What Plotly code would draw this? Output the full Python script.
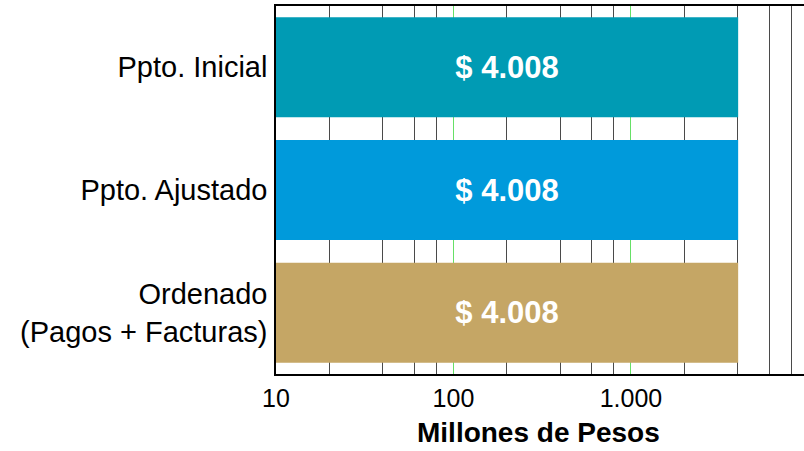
import plotly.graph_objects as go

categories = ["Ppto. Inicial", "Ppto. Ajustado", "Ordenado<br>(Pagos + Facturas)"]
values = [4008, 4008, 4008]
colors = ["#009BB4", "#009ADB", "#C5A665"]
base_value = 10
tick_vals = [10, 100, 1000]
tick_text = ["10", "100", "1.000"]
minor_vals = [20, 40, 60, 80, 200, 400, 600, 800, 2000, 4000, 6000, 8000]
x_title = "Millones de Pesos"

labels = ["$ " + f"{v:,.0f}".replace(",", ".") for v in values]

fig = go.Figure(go.Bar(
    x=values, y=categories, orientation="h", base=base_value,
    marker=dict(color=colors, line=dict(width=0)),
    text=labels, textposition="inside", insidetextanchor="middle",
    textfont=dict(family="Liberation Sans", size=31, color="white", weight="bold"),
    hoverinfo="skip",
))

fig.update_layout(
    width=804, height=451,
    margin=dict(l=276, r=0, t=6, b=77),
    paper_bgcolor="white", plot_bgcolor="white",
    bargap=0.185, showlegend=False,
    font=dict(family="Liberation Sans", color="black"),
)
fig.update_xaxes(
    type="log", range=[1, 3.975],
    tickvals=tick_vals, ticktext=tick_text,
    tickfont=dict(size=25), ticks="", ticklabelstandoff=1,
    showgrid=True, gridcolor="#66E066", gridwidth=1,
    minor=dict(tickvals=minor_vals, showgrid=True, gridcolor="#4a4a4a", gridwidth=1, ticks=""),
    showline=True, linecolor="black", linewidth=1.5, mirror=True,
    zeroline=False,
)
fig.update_yaxes(
    autorange="reversed", tickfont=dict(size=29), ticks="",
    ticklabelstandoff=1,
    showline=True, linecolor="black", linewidth=1.5,
    showgrid=False,
)
fig.add_annotation(
    text="<b>" + x_title + "</b>", xref="paper", yref="paper",
    x=0.497, y=0, yshift=-58, yanchor="middle", xanchor="center",
    showarrow=False, font=dict(size=28, family="Liberation Sans", color="black"),
)

fig.write_html("out.html")
